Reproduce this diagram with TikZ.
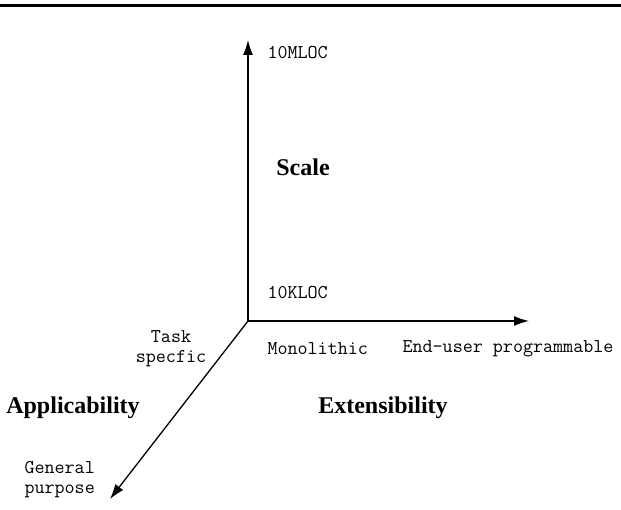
\documentclass[tikz,border=0pt]{standalone}
\usepackage{fontspec}
\setmainfont{Liberation Serif}
\usetikzlibrary{arrows.meta}
\begin{document}
\begin{tikzpicture}[x=1pt,y=-1pt,
    axis/.style={line width=1.3pt,-{Latex[length=15pt,width=10pt]}},
    tick/.style={font=\fontsize{19.5}{20}\selectfont\ttfamily},
    title/.style={font=\fontsize{24}{28}\selectfont\bfseries}]
  \useasboundingbox (0,0) rectangle (621,510);
  \draw[line width=3pt] (0,6) -- (621,6);
  \coordinate (o) at (248,321);
  \coordinate (up) at (248,40);
  \coordinate (right) at (529,321);
  \coordinate (down) at (110,499);
  \draw[axis] (o) -- (up);
  \draw[axis] (o) -- (right);
  \draw[axis] (o) -- (down);
  \node[tick,anchor=west] (mloc) at (264,53) {10MLOC};
  \node[tick,anchor=west] (kloc) at (264,293) {10KLOC};
  \node[tick,anchor=west] (mono) at (264,349) {Monolithic};
  \node[tick,anchor=west] (enduser) at (399,349) {End-user programmable};
  \node[tick,align=center] (task) at (171,349) {Task\\specfic};
  \node[tick,align=left,anchor=west] (general) at (21,480) {General\\[0pt]purpose};
  \node[title] (scale) at (303,167) {Scale};
  \node[title] (applic) at (73,408) {Applicability};
  \node[title] (extens) at (383,408) {Extensibility};
\end{tikzpicture}
\end{document}
